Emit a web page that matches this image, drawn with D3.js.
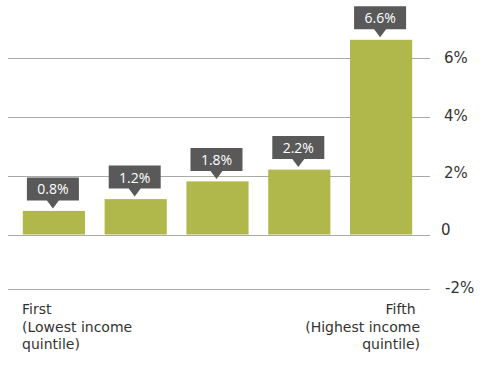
<!DOCTYPE html>
<html><head><meta charset="utf-8">
<script src="https://cdn.jsdelivr.net/npm/d3@7"></script>
<style>
html,body{margin:0;padding:0;background:#fff;}
text{font-family:"DejaVu Sans",sans-serif;}
</style></head>
<body><svg id="c" width="493" height="368"></svg>
<script>
const categories = ["First", "Second", "Third", "Fourth", "Fifth"];
const values = [0.8, 1.2, 1.8, 2.2, 6.6];
const valueLabels = ["0.8%", "1.2%", "1.8%", "2.2%", "6.6%"];
const yTicks = [-2, 0, 2, 4, 6];
const yTickLabels = ["-2%", "0", "2%", "4%", "6%"];
const leftLabel = ["First", "(Lowest income", "quintile)"];
const rightLabel = ["Fifth ", "(Highest income", "quintile)"];

const svg = d3.select("#c");
const x = d3.scaleBand().domain(categories).range([13, 422]).paddingInner(0.24).paddingOuter(0.12);
const y = d3.scaleLinear().domain([-2, 0, 6]).range([288.5, 234.5, 57.5]);
const yLab = d3.scaleLinear().domain([-2, 6]).range([292.7, 63.3]);

// gridlines
svg.append("g").selectAll("line").data(yTicks).join("line")
  .attr("x1", 8).attr("x2", 430)
  .attr("y1", d => Math.round(y(d)) + 0.5).attr("y2", d => Math.round(y(d)) + 0.5)
  .attr("stroke", "#aaaaaa").attr("stroke-width", 1);

// tick labels
svg.append("g").selectAll("text").data(yTicks).join("text")
  .attr("x", d => d < 0 ? 445 : (d === 0 ? 441 : 444))
  .attr("y", d => yLab(d))
  .attr("font-size", 15).attr("fill", "#333")
  .text((d, i) => yTickLabels[i]);

// bars
svg.append("g").selectAll("rect").data(values).join("rect")
  .attr("x", (d, i) => x(categories[i]))
  .attr("width", x.bandwidth())
  .attr("y", d => y(d))
  .attr("height", d => y(0) - y(d))
  .attr("fill", "#b1b84b");

// value labels
const lab = svg.append("g").selectAll("g").data(values).join("g")
  .attr("transform", (d, i) => `translate(${x(categories[i]) + x.bandwidth() / 2 - 1},${y(d) - 2.5})`);
lab.append("path")
  .attr("d", "M-26,-31 H26 V-8 H6 L0,0 L-6,-8 H-26 Z")
  .attr("fill", "#595959");
lab.append("text")
  .attr("x", 0).attr("y", -14)
  .attr("text-anchor", "middle")
  .style("font-family", "'Open Sans', sans-serif")
  .attr("font-size", 14).attr("fill", "#fff")
  .text((d, i) => valueLabels[i]);

// category labels
svg.append("text").attr("font-size", 14).attr("fill", "#333")
  .selectAll("tspan").data(leftLabel).join("tspan")
  .attr("x", 22).attr("y", (d, i) => 314 + i * 17.5).text(d => d);
svg.append("text").attr("font-size", 14).attr("fill", "#333").attr("text-anchor", "end")
  .style("white-space", "pre")
  .selectAll("tspan").data(rightLabel).join("tspan")
  .attr("x", 420).attr("y", (d, i) => 314 + i * 17.5).text(d => d);
</script></body></html>
